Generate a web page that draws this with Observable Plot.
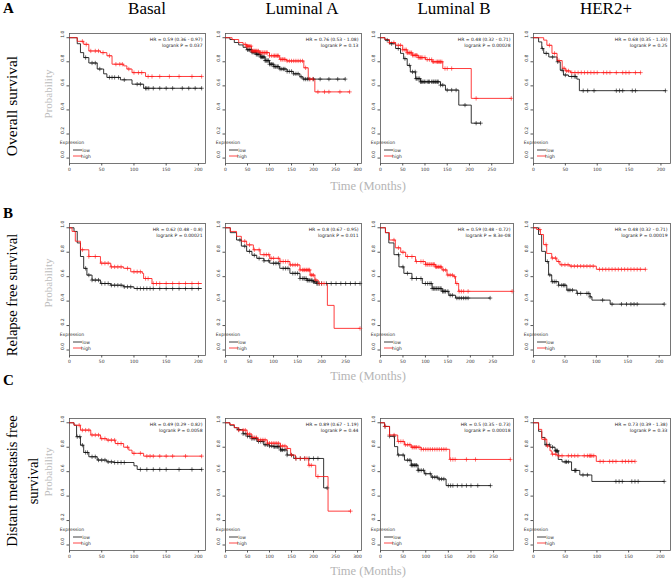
<!DOCTYPE html>
<html>
<head>
<meta charset="utf-8">
<script src="https://cdn.jsdelivr.net/npm/d3@7"></script>
<script src="https://cdn.jsdelivr.net/npm/@observablehq/plot@0.6"></script>
<style>
  html, body { margin: 0; padding: 0; background: #fff; }
  #fig { position: relative; width: 671px; height: 578px; background: #fff; overflow: hidden; }
  #fig svg.panel { position: absolute; }
</style>
</head>
<body>
<div id="fig"></div>
<script>
// ---------------- DATA ----------------
const subtypes = ["Basal", "Luminal A", "Luminal B", "HER2+"];
const rowLetters = ["A", "B", "C"];
const endpoints = ["Overall survival", "Relapse free survival", "Distant metastasis free survival"];
const yTicks = [0, 0.2, 0.4, 0.6, 0.8, 1.0];
const xTicksBasal = [0, 50, 100, 150, 200];
const xTicksLumA300 = [0, 50, 100, 150, 200, 250, 300];
const xTicksLumA250 = [0, 50, 100, 150, 200, 250];
const xTicksLumB = [0, 50, 100, 150, 200, 250];
const xTicksHer2 = [0, 50, 100, 150, 200];
const xMax = [[211, 309, 299, 215], [211, 283, 296, 218], [211, 309, 294, 216]];

const hrLabels = [
  "HR = 0.59 (0.36 - 0.97)", "HR = 0.76 (0.53 - 1.08)", "HR = 0.48 (0.32 - 0.71)", "HR = 0.68 (0.35 - 1.33)",
  "HR = 0.62 (0.48 - 0.8)", "HR = 0.8 (0.67 - 0.95)", "HR = 0.59 (0.48 - 0.72)", "HR = 0.48 (0.32 - 0.71)",
  "HR = 0.49 (0.29 - 0.82)", "HR = 0.89 (0.67 - 1.19)", "HR = 0.5 (0.35 - 0.73)", "HR = 0.73 (0.39 - 1.38)"
];
const pLabels = [
  "logrank P = 0.037", "logrank P = 0.13", "logrank P = 0.00028", "logrank P = 0.25",
  "logrank P = 0.00021", "logrank P = 0.011", "logrank P = 8.3e-08", "logrank P = 0.00019",
  "logrank P = 0.0058", "logrank P = 0.44", "logrank P = 0.00018", "logrank P = 0.33"
];

// Overall survival
const osBasalLow = [[0,1],[12,0.95],[17,0.876],[22,0.835],[30,0.79],[43,0.74],[53,0.70],[58,0.67],[79,0.65],[97,0.614],[115,0.58],[205,0.58]];
const osBasalLowCens = [25,35,40,47,62,66,70,76,85,105,110,118,120,123,130,140,150,160,175,185,195,205];
const osBasalHigh = [[0,1],[12,0.97],[22,0.945],[30,0.89],[48,0.876],[58,0.85],[66,0.78],[84,0.766],[89,0.74],[97,0.71],[118,0.678],[205,0.678]];
const osBasalHighCens = [20,26,33,40,45,52,62,72,78,82,92,100,107,112,122,128,140,155,170,190,205];

const osLumALow = [[0,1],[10,0.985],[20,0.96],[30,0.94],[40,0.92],[48,0.9],[60,0.88],[70,0.862],[80,0.84],[90,0.81],[100,0.78],[110,0.76],[123,0.74],[140,0.72],[154,0.70],[169,0.675],[176,0.656],[272,0.656]];
const osLumALowCens = [50,53,55,58,60,62,64,66,68,70,72,74,76,78,80,82,84,86,88,90,92,94,96,98,100,103,105,108,110,113,115,118,120,124,128,132,135,140,145,150,155,160,165,172,178,182,186,190,200,215,235,255,272];
const osLumAHigh = [[0,1],[15,0.985],[30,0.96],[40,0.945],[48,0.93],[59,0.89],[78,0.876],[100,0.85],[123,0.82],[139,0.807],[178,0.75],[188,0.656],[203,0.55],[282,0.55]];
const osLumAHighCens = [45,48,50,52,55,58,60,62,64,66,68,70,72,75,78,80,83,85,88,90,93,95,100,105,110,112,115,118,120,125,128,130,133,135,140,145,150,155,160,165,170,175,182,192,198,210,225,235,260,282];

const osLumBLow = [[0,1],[10,0.98],[20,0.95],[34,0.91],[45,0.87],[52,0.826],[60,0.77],[67,0.716],[79,0.66],[90,0.634],[135,0.606],[146,0.565],[176,0.44],[204,0.29],[225,0.29]];
const osLumBLowCens = [15,25,40,55,65,72,78,80,82,85,88,90,92,95,98,100,105,108,110,115,118,120,123,125,128,130,135,140,150,160,170,190,215,225];
const osLumBHigh = [[0,1],[10,0.985],[20,0.96],[34,0.937],[50,0.9],[60,0.875],[71,0.854],[85,0.835],[101,0.818],[116,0.8],[140,0.744],[204,0.496],[294,0.496]];
const osLumBHighCens = [20,30,40,45,50,55,58,60,62,65,68,70,72,75,78,80,82,85,88,90,92,95,100,105,110,115,118,120,125,128,130,133,135,138,145,150,160,215,294];

const osHer2Low = [[0,1],[8,0.965],[13,0.91],[16,0.87],[24,0.84],[37,0.80],[42,0.73],[47,0.69],[55,0.678],[68,0.656],[72,0.56],[207,0.56]];
const osHer2LowCens = [14,20,30,38,45,50,60,64,66,78,85,95,130,135,140,155,160,207];
const osHer2High = [[0,1],[16,0.98],[21,0.937],[29,0.87],[37,0.81],[45,0.746],[50,0.724],[58,0.71],[168,0.71]];
const osHer2HighCens = [25,33,40,48,52,55,60,65,70,75,80,85,90,95,100,110,115,120,130,140,145,150,160,168];

// Relapse free survival
const rfsBasalLow = [[0,1],[7,0.97],[12,0.876],[17,0.765],[22,0.668],[27,0.613],[35,0.572],[48,0.544],[64,0.53],[84,0.517],[100,0.503],[205,0.503]];
const rfsBasalLowCens = [25,30,35,40,45,50,55,60,65,70,75,80,85,90,95,105,110,115,120,125,130,140,150,160,170,180,190,200];
const rfsBasalHigh = [[0,1],[4,0.97],[9,0.89],[17,0.82],[30,0.765],[48,0.71],[64,0.68],[84,0.668],[95,0.64],[113,0.627],[115,0.585],[128,0.544],[205,0.544]];
const rfsBasalHighCens = [20,30,40,50,55,60,65,70,75,80,90,100,105,110,118,122,130,135,140,150,160,170,180,190,200];

const rfsLumALow = [[0,1],[10,0.96],[23,0.90],[33,0.85],[44,0.807],[55,0.775],[65,0.75],[80,0.73],[92,0.71],[113,0.668],[134,0.627],[155,0.585],[170,0.57],[183,0.558],[190,0.544],[280,0.544]];
const rfsLumALowCens = [30,40,50,60,70,80,90,100,105,110,120,125,130,140,145,150,155,160,163,165,168,170,172,175,178,180,183,185,188,190,192,195,200,210,220,230,240,250,260,270,280];
const rfsLumAHigh = [[0,1],[10,0.97],[23,0.93],[33,0.89],[44,0.86],[58,0.82],[72,0.78],[92,0.75],[113,0.724],[134,0.696],[155,0.655],[176,0.613],[186,0.572],[193,0.544],[212,0.365],[226,0.177],[280,0.177]];
const rfsLumAHighCens = [40,50,60,70,80,85,90,95,100,110,115,120,125,130,135,140,145,150,155,160,163,165,168,170,173,175,178,180,183,188,195,200,205,280];

const rfsLumBLow = [[0,1],[11,0.96],[18.5,0.876],[30,0.78],[41,0.68],[52,0.627],[70,0.585],[93,0.544],[115,0.503],[137,0.48],[152,0.448],[167,0.425],[244,0.425]];
const rfsLumBLowCens = [40,50,60,70,80,90,100,105,110,113,115,118,120,123,125,128,130,133,135,138,140,143,145,150,155,160,170,175,180,185,190,195,244];
const rfsLumBHigh = [[0,1],[11,0.96],[20,0.9],[33,0.836],[45,0.8],[56,0.765],[78,0.724],[100,0.70],[122,0.68],[137,0.655],[148,0.613],[163,0.60],[167,0.544],[174,0.48],[293,0.48]];
const rfsLumBHighCens = [30,40,50,60,70,80,90,95,100,103,105,108,110,113,115,118,120,123,125,128,130,133,135,140,145,150,155,160,165,170,175,180,185,195,293];

const rfsHer2Low = [[0,1],[8,0.945],[13,0.807],[19,0.724],[24,0.614],[29,0.559],[40,0.53],[53,0.49],[69,0.463],[90,0.435],[93,0.408],[122,0.375],[208,0.375]];
const rfsHer2LowCens = [22,26,30,33,36,40,45,48,50,55,58,62,70,75,85,88,90,110,125,140,148,155,160,165,208];
const rfsHer2High = [[0,1],[5,0.986],[11,0.945],[16,0.862],[21,0.79],[29,0.752],[37,0.724],[42,0.697],[58,0.686],[100,0.66],[178,0.66]];
const rfsHer2HighCens = [10,20,30,35,40,45,50,55,60,65,70,75,80,85,90,95,105,110,115,120,125,130,135,140,145,150,155,160,165,170,178];

// Distant metastasis free survival
const dmfsBasalLow = [[0,1],[7,0.98],[11,0.886],[17,0.817],[22,0.757],[30,0.722],[43,0.695],[58,0.68],[69,0.675],[100,0.648],[105,0.618],[205,0.618]];
const dmfsBasalLowCens = [12,16,20,25,28,35,40,45,50,55,60,65,70,75,80,85,110,120,130,140,150,170,190,205];
const dmfsBasalHigh = [[0,1],[7,0.98],[17,0.94],[33,0.9],[48,0.87],[58,0.858],[71,0.83],[84,0.8],[92,0.776],[97,0.75],[115,0.727],[205,0.727]];
const dmfsBasalHighCens = [15,20,25,30,35,40,45,50,55,60,65,70,75,80,90,100,110,120,125,130,140,150,160,180,205];

const dmfsLumALow = [[0,1],[10,0.98],[20,0.96],[26.5,0.944],[40,0.91],[49,0.89],[60,0.87],[72,0.847],[87,0.82],[100,0.81],[110,0.805],[125,0.778],[140,0.736],[155,0.708],[223,0.467],[231,0.467]];
const dmfsLumALowCens = [30,40,45,50,55,60,65,70,75,80,85,90,95,100,105,110,112,115,118,120,122,125,128,130,135,140,150,160,170,180,190,200,210,231];
const dmfsLumAHigh = [[0,1],[10,0.985],[20,0.96],[30,0.94],[49,0.908],[60,0.88],[72,0.86],[95,0.833],[125,0.81],[140,0.79],[148,0.736],[159,0.708],[189,0.652],[205,0.56],[233,0.277],[284,0.277]];
const dmfsLumAHighCens = [30,40,45,50,55,60,65,70,75,80,85,90,95,100,105,110,115,120,125,130,135,140,150,160,170,180,185,190,195,210,284];

const dmfsLumBLow = [[0,1],[9,0.97],[20,0.89],[31,0.805],[38,0.736],[53,0.694],[68,0.653],[83,0.611],[97,0.583],[112,0.555],[127,0.54],[145,0.486],[243,0.486]];
const dmfsLumBLowCens = [10,20,30,40,50,60,65,68,70,72,75,78,80,83,85,90,95,100,110,115,120,125,130,135,140,150,155,160,170,180,190,200,215,243];
const dmfsLumBHigh = [[0,1],[9,0.97],[20,0.9],[38,0.847],[53,0.82],[68,0.8],[90,0.783],[153,0.70],[287,0.70]];
const dmfsLumBHighCens = [10,20,30,40,45,50,55,60,65,70,72,75,78,80,85,90,95,100,105,110,115,120,125,130,135,140,145,155,160,165,190,210,287];

const dmfsHer2Low = [[0,1],[8,0.93],[13,0.88],[18,0.82],[26,0.80],[34,0.77],[39,0.70],[45,0.68],[60,0.61],[73,0.573],[92,0.52],[206,0.52]];
const dmfsHer2LowCens = [20,25,30,35,36,37,38,50,52,55,65,66,67,78,85,130,135,140,155,160,165,206];
const dmfsHer2High = [[0,1],[8,0.946],[13,0.865],[21,0.81],[26,0.77],[29,0.743],[37,0.73],[99,0.684],[160,0.684]];
const dmfsHer2HighCens = [18,22,30,35,40,45,55,60,65,70,80,85,88,90,92,95,105,110,120,125,130,140,145,150,155,160];

// ---------------- LAYOUT ----------------
const rowTop = [33, 223, 418], rowBottom = [163, 355, 550];
const colLeft = [69, 225, 380, 533], colRight = [205, 361, 513, 670];
const xTickSets = [
  [xTicksBasal, xTicksLumA300, xTicksLumB, xTicksHer2],
  [xTicksBasal, xTicksLumA250, xTicksLumB, xTicksHer2],
  [xTicksBasal, xTicksLumA300, xTicksLumB, xTicksHer2]
];
const curves = [
  [[osBasalLow, osBasalLowCens, osBasalHigh, osBasalHighCens], [osLumALow, osLumALowCens, osLumAHigh, osLumAHighCens],
   [osLumBLow, osLumBLowCens, osLumBHigh, osLumBHighCens], [osHer2Low, osHer2LowCens, osHer2High, osHer2HighCens]],
  [[rfsBasalLow, rfsBasalLowCens, rfsBasalHigh, rfsBasalHighCens], [rfsLumALow, rfsLumALowCens, rfsLumAHigh, rfsLumAHighCens],
   [rfsLumBLow, rfsLumBLowCens, rfsLumBHigh, rfsLumBHighCens], [rfsHer2Low, rfsHer2LowCens, rfsHer2High, rfsHer2HighCens]],
  [[dmfsBasalLow, dmfsBasalLowCens, dmfsBasalHigh, dmfsBasalHighCens], [dmfsLumALow, dmfsLumALowCens, dmfsLumAHigh, dmfsLumAHighCens],
   [dmfsLumBLow, dmfsLumBLowCens, dmfsLumBHigh, dmfsLumBHighCens], [dmfsHer2Low, dmfsHer2LowCens, dmfsHer2High, dmfsHer2HighCens]]
];

const LOW = "#111", HIGH = "#ff1a1a";
const mL = 14, mR = 3, mT = 2, mB = 14;
const fig = document.getElementById("fig");

// value of a Kaplan-Meier step curve at time t (censor marks sit on the curve)
function stepAt(curve, t) {
  let s = curve[0][1];
  for (const [ti, si] of curve) { if (ti <= t) s = si; else break; }
  return s;
}

// ---------------- ANNOTATION OVERLAY ----------------
const ov = d3.select(fig).append("svg")
  .attr("width", 671).attr("height", 578)
  .style("position", "absolute").style("left", 0).style("top", 0)
  .attr("font-family", "'Liberation Serif', 'Times New Roman', serif");

const titleX = [147, 302, 454, 606];
subtypes.forEach((s, i) => ov.append("text").attr("x", titleX[i]).attr("y", 13.5)
  .attr("text-anchor", "middle").attr("font-size", 17).attr("fill", "#000").text(s));

const letterY = [13, 218, 385];
rowLetters.forEach((l, i) => ov.append("text").attr("x", 3).attr("y", letterY[i])
  .attr("font-size", 15).attr("font-weight", "bold").attr("fill", "#000").text(l));

function vtext(x, y, txt, size, fill) {
  ov.append("text").attr("transform", `translate(${x},${y}) rotate(-90)`)
    .attr("text-anchor", "middle").attr("font-size", size).attr("fill", fill).text(txt);
}
vtext(17, 106, endpoints[0], 15.5, "#000");
vtext(17, 295, endpoints[1], 14.5, "#000");
vtext(17, 481, "Distant metastasis free", 14.5, "#000");
vtext(38, 481, "survival", 14.5, "#000");

const probY = [94, 283, 472];
probY.forEach(y => vtext(52, y, "Probability", 11, "#bdbdbd"));

const timeY = [190, 380, 575];
timeY.forEach(y => ov.append("text").attr("x", 368).attr("y", y).attr("text-anchor", "middle")
  .attr("font-size", 12.5).attr("fill", "#b5b5b5").text("Time (Months)"));

// ---------------- PANELS ----------------
for (let r = 0; r < 3; r++) {
  for (let c = 0; c < 4; c++) {
    const fw = colRight[c] - colLeft[c], fh = rowBottom[r] - rowTop[r];
    const [low, lowC, high, highC] = curves[r][c];
    const lowCens = lowC.map(t => ({t, s: stepAt(low, t)}));
    const highCens = highC.map(t => ({t, s: stepAt(high, t)}));
    const idx = r * 4 + c;
    const chart = Plot.plot({
      width: fw + mL + mR, height: fh + mT + mB,
      marginLeft: mL, marginRight: mR, marginTop: mT, marginBottom: mB,
      x: {domain: [0, xMax[r][c]]},
      y: {domain: [-0.045, 1.035]},
      style: {fontFamily: "'DejaVu Sans', sans-serif", fontSize: "4.5px", background: "none", overflow: "visible", color: "#333"},
      marks: [
        Plot.frame({stroke: "#555", strokeWidth: 0.8}),
        Plot.axisX({ticks: xTickSets[r][c], tickSize: 2.5, tickPadding: 1.5, label: null, stroke: "#555"}),
        Plot.axisY({ticks: yTicks, tickSize: 2.5, tickFormat: () => "", label: null, stroke: "#555"}),
        Plot.text(yTicks, {y: d => d, text: d => d.toFixed(1), frameAnchor: "left", dx: -7, rotate: -90, fill: "#333"}),
        Plot.line(low, {x: d => d[0], y: d => d[1], curve: "step-after", stroke: LOW, strokeWidth: 0.85}),
        Plot.line(high, {x: d => d[0], y: d => d[1], curve: "step-after", stroke: HIGH, strokeWidth: 0.85}),
        Plot.dot(lowCens, {x: "t", y: "s", symbol: "plus", r: 1.5, stroke: LOW, strokeWidth: 0.6}),
        Plot.dot(highCens, {x: "t", y: "s", symbol: "plus", r: 1.5, stroke: HIGH, strokeWidth: 0.6}),
        Plot.text([hrLabels[idx]], {frameAnchor: "top-right", dx: -3, dy: 4.5, textAnchor: "end", fill: "#222"}),
        Plot.text([pLabels[idx]], {frameAnchor: "top-right", dx: -3, dy: 10, textAnchor: "end", fill: "#222"})
      ]
    });
    chart.classList.add("panel");
    chart.style.left = (colLeft[c] - mL) + "px";
    chart.style.top = (rowTop[r] - mT) + "px";
    // legend box (bottom-left of the frame)
    const g = d3.select(chart).append("g")
      .attr("transform", `translate(${mL + 3},${mT + fh})`)
      .attr("font-family", "'DejaVu Sans', sans-serif").attr("font-size", 4.5).attr("fill", "#333");
    g.append("text").attr("x", 0).attr("y", -19.5).text("Expression");
    [["low", LOW, -13], ["high", HIGH, -7]].forEach(([lab, col, yy]) => {
      g.append("line").attr("x1", 1).attr("x2", 10).attr("y1", yy).attr("y2", yy)
        .attr("stroke", col).attr("stroke-width", 0.8);
      g.append("text").attr("x", 14).attr("y", yy + 1.6).text(lab);
    });
    fig.appendChild(chart);
  }
}
</script>
</body>
</html>
